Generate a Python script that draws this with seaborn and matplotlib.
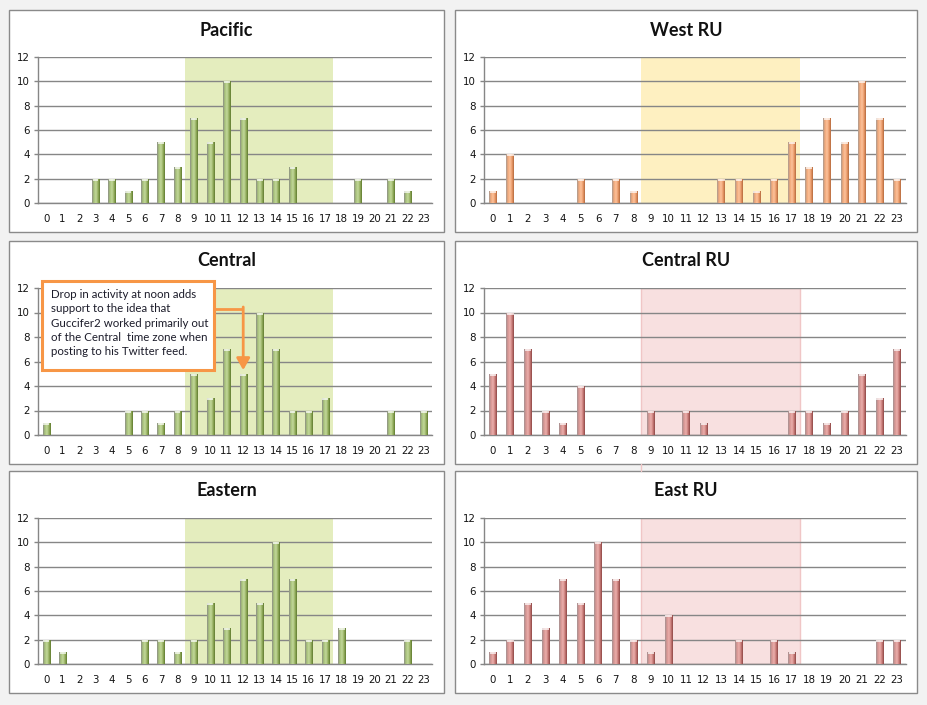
import numpy as np
import pandas as pd
import matplotlib
matplotlib.use('Agg')
import matplotlib.pyplot as plt
from matplotlib.colors import LinearSegmentedColormap
from matplotlib.patches import Rectangle
from matplotlib.lines import Line2D
import seaborn as sns

# hourly posting counts, by time zone
hours = list(range(24))
pacific = [0, 0, 0, 2, 2, 1, 2, 5, 3, 7, 5, 10, 7, 2, 2, 3, 0, 0, 0, 2, 0, 2, 1, 0]
west_ru = [1, 4, 0, 0, 0, 2, 0, 2, 1, 0, 0, 0, 0, 2, 2, 1, 2, 5, 3, 7, 5, 10, 7, 2]
central = [1, 0, 0, 0, 0, 2, 2, 1, 2, 5, 3, 7, 5, 10, 7, 2, 2, 3, 0, 0, 0, 2, 0, 2]
central_ru = [5, 10, 7, 2, 1, 4, 0, 0, 0, 2, 0, 2, 1, 0, 0, 0, 0, 2, 2, 1, 2, 5, 3, 7]
eastern = [2, 1, 0, 0, 0, 0, 2, 2, 1, 2, 5, 3, 7, 5, 10, 7, 2, 2, 3, 0, 0, 0, 2, 0]
east_ru = [1, 2, 5, 3, 7, 5, 10, 7, 2, 1, 4, 0, 0, 0, 2, 0, 2, 1, 0, 0, 0, 0, 2, 2]

titles = ['Pacific', 'West RU', 'Central', 'Central RU', 'Eastern', 'East RU']
series = [pacific, west_ru, central, central_ru, eastern, east_ru]

note = ("Drop in activity at noon adds\n"
        "support to the idea that\n"
        "Guccifer2 worked primarily out\n"
        "of the Central  time zone when\n"
        "posting to his Twitter feed.")

green = LinearSegmentedColormap.from_list('g', ['#8c8f86', '#a9c47a', '#c3d89c', '#98b261', '#5f7a2f'])
orange = LinearSegmentedColormap.from_list('o', ['#a89a92', '#f3a878', '#fcc39d', '#ec9d6c', '#b4693d'])
red = LinearSegmentedColormap.from_list('r', ['#a49292', '#d89592', '#ebb0ad', '#cb7e7b', '#8c4644'])

styles = [
    (green, '#e4edbe', None),
    (orange, '#fef0c1', None),
    (green, '#e4edbe', None),
    (red, '#f8e0e0', '#f0c6c6'),
    (green, '#e4edbe', None),
    (red, '#f8e0e0', '#f0c6c6'),
]

W, H = 928, 705
sns.set_style('white')
fig = plt.figure(figsize=(W / 100, H / 100), dpi=100, facecolor='#f2f2f2')

# panel frames (pixels)
col_box = [(9, 444), (455, 917)]
row_box = [(10, 232), (241, 464), (471, 693)]
col_ax = [(38, 432), (484, 906)]
row_ax = [(57, 203), (288, 435), (518, 664)]
title_y = [30, 261, 491]

grad = np.linspace(0, 1, 64).reshape(1, -1)
axes = []
for i, (title, vals) in enumerate(zip(titles, series)):
    r, c = divmod(i, 2)
    bx0, bx1 = col_box[c]
    by0, by1 = row_box[r]
    fig.patches.append(Rectangle((bx0 / W, 1 - by1 / H), (bx1 - bx0) / W, (by1 - by0) / H,
                                 transform=fig.transFigure, facecolor='white',
                                 edgecolor='#8a8a8a', lw=1.0, zorder=-1))
    fig.text((bx0 + bx1) / 2 / W, 1 - title_y[r] / H, title, ha='center', va='center',
             fontsize=13, fontweight='bold', family='Lato', color='#111111')

    ax0, ax1 = col_ax[c]
    ay0, ay1 = row_ax[r]
    ax = fig.add_axes([ax0 / W, 1 - ay1 / H, (ax1 - ax0) / W, (ay1 - ay0) / H])
    ax.set_zorder(2)
    ax.set_facecolor('none')
    cmap, span_col, span_edge = styles[i]

    df = pd.DataFrame({'hour': hours, 'count': vals})
    sns.barplot(data=df, x='hour', y='count', ax=ax, width=0.45, color='#999999', zorder=2)
    cap = 12 * 2.0 / (ay1 - ay0)  # about two pixels in data units
    for p in ax.containers[0]:
        h = p.get_height()
        p.set_edgecolor('none')
        if h <= 0:
            continue
        x0, w = p.get_x(), p.get_width()
        im = ax.imshow(grad, cmap=cmap, aspect='auto', extent=(x0, x0 + w, 0, h),
                       zorder=3, interpolation='bilinear')
        im.set_clip_path(p)
        ax.add_patch(Rectangle((x0 + w * 0.1, h - cap), w * 0.8, cap,
                               facecolor='white', alpha=0.7, lw=0, zorder=4))

    ax.axvspan(8.43, 17.47, facecolor=span_col, edgecolor=span_edge or 'none',
               lw=1.0, zorder=0.1)

    ax.set_xlim(-0.5, 23.5)
    ax.set_ylim(0, 12)
    ax.set_yticks(range(0, 13, 2))
    ax.set_xticks(hours)
    ax.set_xticks(np.arange(-0.5, 24, 1), minor=True)
    ax.set_xticklabels([str(h) for h in hours])
    ax.yaxis.grid(True, color='#868686', lw=1.0)
    ax.set_axisbelow(True)
    ax.tick_params(axis='x', which='major', length=0, pad=8, labelsize=7.4, labelcolor='#141414')
    ax.tick_params(axis='x', which='minor', length=3, width=1, color='#868686', direction='out')
    ax.tick_params(axis='y', length=3, width=1, color='#868686', direction='out', pad=3,
                   labelsize=7.4, labelcolor='#141414', left=True)
    for lbl in ax.get_xticklabels() + ax.get_yticklabels():
        lbl.set_family('DejaVu Sans')
    for s in ['top', 'right']:
        ax.spines[s].set_visible(False)
    for s in ['left', 'bottom']:
        ax.spines[s].set_color('#868686')
        ax.spines[s].set_linewidth(1.0)
    ax.set_xlabel('')
    ax.set_ylabel('')
    axes.append(ax)

# annotation on the Central panel
ax = axes[2]
ax.add_patch(Rectangle((0.011, 0.442), 0.436, 0.606, transform=ax.transAxes,
                       facecolor='white', edgecolor='#f79646', lw=2.2,
                       clip_on=False, zorder=6))
ax.text(0.032, 0.995, note, transform=ax.transAxes, ha='left', va='top',
        fontsize=8.3, family='Lato', color='#1c1c2a', linespacing=1.38, zorder=7)
ax.plot([10.25, 12], [10.3, 10.3], color='#f79646', lw=2.0, zorder=5, solid_capstyle='butt')
ax.annotate('', xy=(12, 5.3), xytext=(12, 10.45),
            arrowprops=dict(arrowstyle='-|>,head_length=0.7,head_width=0.4',
                            color='#f79646', lw=2.0, shrinkA=0, shrinkB=0), zorder=5)

# thin pink line showing between the Central RU and East RU panels
fig.add_artist(Line2D([641 / W, 641 / W], [1 - 464 / H, 1 - 471 / H],
                      transform=fig.transFigure, color='#f0c6c6', lw=1.0))

fig.savefig('out.png', dpi=100, facecolor=fig.get_facecolor())
